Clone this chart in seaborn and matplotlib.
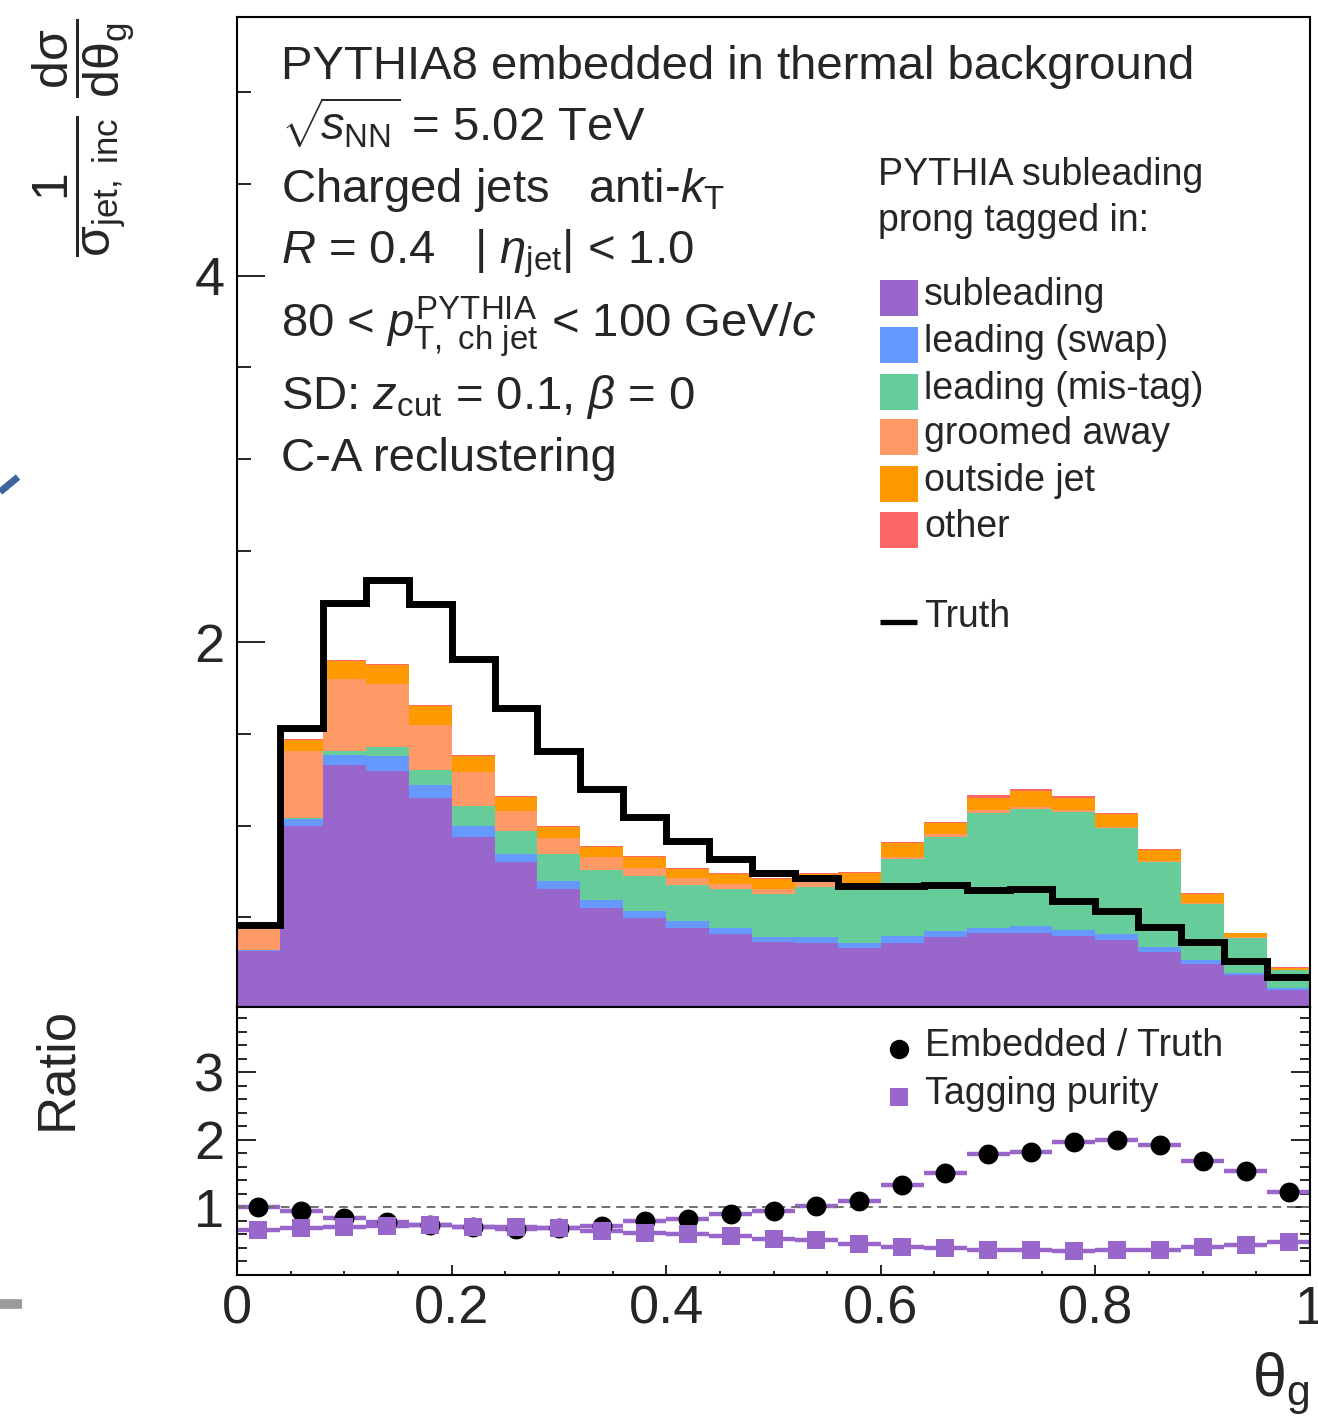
import numpy as np
import pandas as pd
import matplotlib
matplotlib.use("Agg")
import matplotlib.pyplot as plt
from matplotlib.patches import Rectangle
from matplotlib.lines import Line2D
from matplotlib.ticker import MultipleLocator, FixedLocator
import seaborn as sns

# ---------------- data ----------------
theta_bin_edges = [round(0.04 * i, 2) for i in range(26)]

subleading = [0.316, 1.00, 1.33, 1.30, 1.15, 0.94, 0.80, 0.655, 0.55, 0.496, 0.44, 0.409, 0.365,
              0.36, 0.332, 0.36, 0.392, 0.414, 0.416, 0.397, 0.376, 0.31, 0.245, 0.185, 0.104]
leading_swap = [0.004, 0.035, 0.055, 0.077, 0.07, 0.06, 0.045, 0.045, 0.044, 0.038, 0.04, 0.031, 0.025,
                0.03, 0.028, 0.037, 0.033, 0.026, 0.036, 0.033, 0.033, 0.028, 0.022, 0.011, 0.011]
leading_mistag = [0.001, 0.005, 0.021, 0.053, 0.08, 0.105, 0.125, 0.145, 0.163, 0.191, 0.196, 0.214, 0.237,
                  0.275, 0.296, 0.42, 0.512, 0.63, 0.638, 0.644, 0.577, 0.462, 0.305, 0.191, 0.095]
groomed_away = [0.115, 0.366, 0.394, 0.34, 0.25, 0.185, 0.11, 0.085, 0.071, 0.045, 0.038, 0.026, 0.027,
                0.025, 0.014, 0.013, 0.016, 0.015, 0.01, 0.009, 0.004, 0.005, 0.003, 0.003, 0.002]
outside_jet = [0.004, 0.06, 0.10, 0.105, 0.10, 0.09, 0.075, 0.06, 0.055, 0.06, 0.049, 0.055, 0.054,
               0.045, 0.072, 0.075, 0.06, 0.065, 0.09, 0.067, 0.072, 0.06, 0.052, 0.024, 0.012]
other = [0.002, 0.004, 0.005, 0.005, 0.005, 0.005, 0.005, 0.005, 0.006, 0.005, 0.005, 0.005, 0.004,
         0.004, 0.005, 0.005, 0.007, 0.015, 0.01, 0.012, 0.008, 0.005, 0.004, 0.002, 0.002]
truth = [0.457, 1.53, 2.214, 2.34, 2.21, 1.91, 1.64, 1.405, 1.20, 1.046, 0.915, 0.817, 0.74,
         0.715, 0.67, 0.67, 0.675, 0.648, 0.654, 0.59, 0.534, 0.447, 0.365, 0.26, 0.174]

ratio_embedded_truth = [1.00, 0.95, 0.85, 0.785, 0.74, 0.71, 0.685, 0.70, 0.725, 0.80, 0.825, 0.90, 0.95,
                        1.015, 1.10, 1.335, 1.505, 1.795, 1.825, 1.965, 2.00, 1.925, 1.685, 1.535, 1.225]
tagging_purity = [0.66, 0.70, 0.715, 0.73, 0.735, 0.715, 0.71, 0.70, 0.655, 0.625, 0.61, 0.58, 0.535,
                  0.525, 0.46, 0.415, 0.40, 0.37, 0.37, 0.355, 0.375, 0.375, 0.415, 0.45, 0.49]

category_names = ["subleading", "leading (swap)", "leading (mis-tag)", "groomed away", "outside jet", "other"]
category_values = [subleading, leading_swap, leading_mistag, groomed_away, outside_jet, other]
category_colors = ["#9966CC", "#6699FF", "#66CC99", "#FF9966", "#FF9900", "#FF6666"]

header_lines = ["PYTHIA subleading", "prong tagged in:"]
info_lines = [
    "PYTHIA8 embedded in thermal background",
    r"$\sqrt{\!s_{\mathrm{NN}}}$ = 5.02 TeV",
    r"Charged jets   anti-$k_{\mathrm{T}}$",
    r"$R$ = 0.4   | $\eta_{\mathrm{jet}}$| < 1.0",
    r"80 < $p_{\mathrm{T,\ ch\ jet}}^{\mathrm{PYTHIA}}$ < 100 GeV/$c$",
    r"SD: $z_{\mathrm{cut}}$ = 0.1, $\beta$ = 0",
    "C-A reclustering",
]
x_tick_values = [0.0, 0.2, 0.4, 0.6, 0.8, 1.0]
x_tick_labels = ["0", "0.2", "0.4", "0.6", "0.8", "1"]

# ---------------- style ----------------
sns.set_style("ticks")
plt.rcParams["font.family"] = ["Liberation Sans", "DejaVu Sans"]
plt.rcParams["mathtext.fontset"] = "custom"
plt.rcParams["mathtext.rm"] = "Liberation Sans"
plt.rcParams["mathtext.it"] = "Liberation Sans:italic"
plt.rcParams["mathtext.bf"] = "Liberation Sans:bold"
plt.rcParams["mathtext.sf"] = "Liberation Sans"
plt.rcParams["axes.linewidth"] = 1.5

W, H = 1318, 1418
fig = plt.figure(figsize=(W / 100, H / 100), dpi=100)


def fx(px):
    return px / W


def fy(py):
    return 1 - py / H


ax1 = fig.add_axes([fx(237), fy(1007), fx(1310) - fx(237), fy(17) - fy(1007)])
ax2 = fig.add_axes([fx(237), fy(1275), fx(1310) - fx(237), fy(1007) - fy(1275)])

edges_arr = np.array(theta_bin_edges)
centers = (edges_arr[:-1] + edges_arr[1:]) / 2
half_width = (edges_arr[1:] - edges_arr[:-1]) / 2

# ---------------- top panel ----------------
df = pd.DataFrame({
    "theta": np.tile(centers, len(category_names)),
    "value": np.concatenate(category_values),
    "category": np.repeat(category_names, len(centers)),
})
palette = dict(zip(category_names, category_colors))
sns.histplot(data=df, x="theta", weights="value", hue="category",
             hue_order=category_names[::-1], multiple="stack", bins=theta_bin_edges,
             element="step", fill=True, alpha=1, linewidth=0, palette=palette,
             legend=False, ax=ax1)
truth_df = pd.DataFrame({"theta": centers, "value": truth})
sns.histplot(data=truth_df, x="theta", weights="value", bins=theta_bin_edges, element="step",
             fill=False, color="black", linewidth=5, ax=ax1)
for ln in ax1.lines:
    ln.set_zorder(3)
    ln.set_solid_joinstyle("miter")

ax1.set_xlim(0, 1)
ax1.set_ylim(0.01, 5.41)
ax1.set_xlabel("")
ax1.set_ylabel("")
ax1.yaxis.set_major_locator(FixedLocator([2, 4]))
ax1.yaxis.set_minor_locator(MultipleLocator(0.5))
ax1.tick_params(axis="y", which="major", direction="in", length=20, width=1.4,
                labelsize=39, pad=9, left=True, right=False)
ax1.tick_params(axis="y", which="minor", direction="in", length=10, width=1.4, left=True, right=False)
ax1.tick_params(axis="x", which="both", bottom=False, top=False, labelbottom=False)
for sp in ax1.spines.values():
    sp.set_visible(True)
    sp.set_color("black")
    sp.set_zorder(5)

# info text
info_baselines = [79, 141, 202, 264, 337, 409, 471]
for txt, yb in zip(info_lines, info_baselines):
    fig.text(fx(281), fy(yb), txt, fontsize=34, va="baseline", ha="left")

# legend header & entries
fig.text(fx(878), fy(185), header_lines[0], fontsize=27, va="baseline", ha="left")
fig.text(fx(878), fy(231), header_lines[1], fontsize=27, va="baseline", ha="left")
box_centers = [298, 345, 392, 437, 484, 530]
for name, col, yc in zip(category_names, category_colors, box_centers):
    fig.add_artist(Rectangle((fx(880), fy(yc + 18)), 38 / W, 36 / H, transform=fig.transFigure,
                             facecolor=col, edgecolor="none"))
    fig.text(fx(924), fy(yc + 7), name, fontsize=27, va="baseline", ha="left")
fig.add_artist(Line2D([fx(880), fx(917)], [fy(622), fy(622)], transform=fig.transFigure,
                      color="black", linewidth=3.8, solid_capstyle="butt"))
fig.text(fx(924), fy(627), "Truth", fontsize=27, va="baseline", ha="left")

# ---------------- ratio panel ----------------
purple = category_colors[0]
ax2.axhline(1.0, color="#707070", linewidth=1.4, linestyle=(0, (4.5, 3)), zorder=2.5)
ax2.errorbar(centers, ratio_embedded_truth, xerr=half_width, fmt="none", ecolor=purple,
             elinewidth=3.2, capsize=0, zorder=2)
ax2.errorbar(centers, tagging_purity, xerr=half_width, fmt="none", ecolor=purple,
             elinewidth=3.2, capsize=0, zorder=2)
sns.scatterplot(x=centers, y=ratio_embedded_truth, ax=ax2, color="black", marker="o", s=205,
                linewidth=0, zorder=3, legend=False)
sns.scatterplot(x=centers, y=tagging_purity, ax=ax2, color=purple, marker="s", s=185,
                linewidth=0, zorder=4, legend=False)

ax2.set_xlim(0, 1)
ax2.set_ylim(0, 3.97)
ax2.set_xlabel("")
ax2.set_ylabel("")
ax2.yaxis.set_major_locator(FixedLocator([0, 1, 2, 3]))
ax2.set_yticklabels(["", "1", "2", "3"])
ax2.yaxis.set_minor_locator(MultipleLocator(0.2))
ax2.xaxis.set_major_locator(FixedLocator(x_tick_values))
ax2.set_xticklabels(x_tick_labels)
ax2.xaxis.set_minor_locator(MultipleLocator(0.05))
ax2.tick_params(axis="y", which="major", direction="in", length=14, width=1.4,
                labelsize=39, pad=9, left=True, right=True)
ax2.tick_params(axis="y", which="minor", direction="in", length=7, width=1.4, left=True, right=True)
ax2.tick_params(axis="x", which="major", direction="in", length=7, width=1.4,
                labelsize=39, pad=7, bottom=True, top=False)
ax2.tick_params(axis="x", which="minor", direction="in", length=3.2, width=1.4, bottom=True, top=False)
for sp in ax2.spines.values():
    sp.set_visible(True)
    sp.set_color("black")
    sp.set_zorder(5)

# ratio legend
fig.add_artist(Line2D([fx(899)], [fy(1049)], transform=fig.transFigure, marker="o",
                      markersize=14, color="black", linestyle="none", markeredgewidth=0))
fig.text(fx(925), fy(1056), "Embedded / Truth", fontsize=27, va="baseline", ha="left")
fig.add_artist(Line2D([fx(899)], [fy(1097)], transform=fig.transFigure, marker="s",
                      markersize=13.5, color=purple, linestyle="none", markeredgewidth=0))
fig.text(fx(925), fy(1104), "Tagging purity", fontsize=27, va="baseline", ha="left")

# axis titles
fig.text(fx(84), fy(138),
         r"$\dfrac{1}{\mathrm{σ}_{\mathrm{jet,\ inc}}}\ \dfrac{\mathrm{dσ}}{\mathrm{dθ}_{\mathrm{g}}}$",
         rotation=90, ha="center", va="center", fontsize=36)
fig.text(fx(57), fy(1068), "Ratio", rotation=90, ha="center", va="center", fontsize=38)
fig.text(fx(1310), fy(1396), r"$\mathrm{θ}_{\mathrm{g}}$", ha="right", va="baseline", fontsize=44)

# cropping remnants at the left edge of the source figure
fig.add_artist(Line2D([0, fx(18)], [fy(492), fy(477)], transform=fig.transFigure,
                      color="#3E64A0", linewidth=5, solid_capstyle="butt"))
fig.add_artist(Line2D([0, fx(22)], [fy(1304), fy(1304)], transform=fig.transFigure,
                      color="#9A9A9A", linewidth=7, solid_capstyle="butt"))

fig.savefig("out.png", dpi=100)
